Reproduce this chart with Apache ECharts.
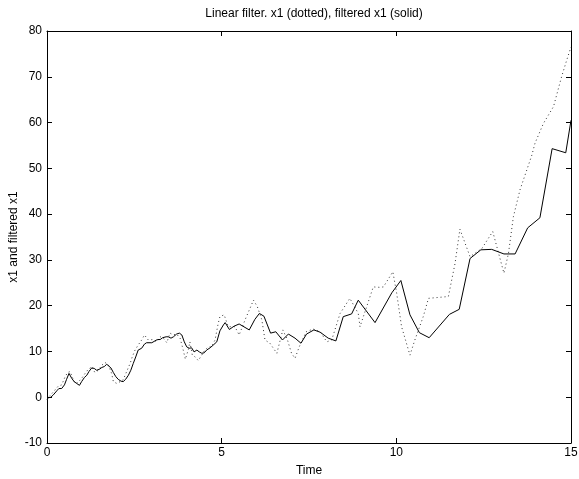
<!DOCTYPE html>
<html>
<head>
<meta charset="utf-8">
<script src="https://cdn.jsdelivr.net/npm/echarts@6/dist/echarts.min.js"></script>
<style>
  html, body { margin: 0; padding: 0; background: #fff; }
  #chart { width: 579px; height: 479px; }
</style>
</head>
<body>
<div id="chart"></div>
<script>
// filtered x1 (solid): time and value
const solidTime = [0.0, 0.11, 0.18, 0.28, 0.34, 0.42, 0.5, 0.56, 0.63, 0.71, 0.78, 0.85, 0.93, 0.99,
  1.07, 1.14, 1.2, 1.28, 1.35, 1.42, 1.5, 1.57, 1.64, 1.71, 1.76, 1.83, 1.9, 1.97, 2.04, 2.12, 2.18,
  2.25, 2.33, 2.4, 2.47, 2.54, 2.61, 2.71, 2.79, 2.85, 3.0, 3.09, 3.16, 3.24, 3.31, 3.41, 3.47, 3.55,
  3.62, 3.71, 3.79, 3.86, 3.93, 4.0, 4.07, 4.14, 4.21, 4.29, 4.36, 4.43, 4.5, 4.57, 4.67, 4.76, 4.86,
  4.95, 5.05, 5.1, 5.22, 5.35, 5.5, 5.79, 5.95, 6.08, 6.21, 6.4, 6.55, 6.74, 6.91, 7.1, 7.27, 7.43,
  7.64, 7.82, 8.05, 8.27, 8.48, 8.72, 8.91, 9.39, 9.87, 10.13, 10.39, 10.66, 10.94, 11.52, 11.8,
  12.11, 12.42, 12.73, 13.08, 13.4, 13.76, 14.11, 14.46, 14.85, 15.0];
const solidValue = [-0.2, 0, 0.5, 1.4, 1.9, 1.9, 2.7, 3.9, 5.2, 4.1, 3.4, 3.0, 2.6, 3.4,
  4.3, 4.8, 5.6, 6.4, 6.3, 5.9, 6.1, 6.5, 6.7, 7.2, 7.4, 6.4, 5.4, 4.5, 3.9, 3.5, 3.4,
  3.9, 4.8, 5.9, 7.4, 8.8, 10.3, 10.7, 11.6, 11.9, 11.9, 12.3, 12.6, 12.6, 13.0, 13.2, 13.2, 12.9,
  13.2, 13.8, 14.0, 13.6, 12.1, 11.0, 10.7, 10.8, 9.9, 10.3, 9.9, 9.6, 9.7, 10.3, 10.8, 11.4, 12.1,
  14.5, 15.8, 16.3, 14.8, 15.5, 16.0, 14.7, 17.0, 18.3, 17.7, 14.0, 14.3, 12.5, 13.8, 12.9, 11.8, 13.8,
  14.7, 14.2, 12.9, 12.3, 17.6, 18.2, 21.2, 16.3, 22.8, 25.5, 18.0, 14.1, 13.0, 18.1, 19.2,
  30.3, 32.2, 32.3, 31.3, 31.3, 37.0, 39.2, 54.3, 53.4, 60.5];

// x1 (dotted): time and value
const dottedTime = [0.0, 0.04, 0.13, 0.23, 0.32, 0.42, 0.52, 0.59, 0.66, 0.72, 0.8, 0.88, 0.99,
  1.09, 1.16, 1.28, 1.37, 1.47, 1.57, 1.66, 1.76, 1.85, 1.9, 2.0, 2.09, 2.18, 2.28, 2.38, 2.44,
  2.52, 2.61, 2.71, 2.79, 2.9, 3.04, 3.14, 3.24, 3.33, 3.43, 3.52, 3.62, 3.71, 3.81, 3.9, 3.96,
  4.05, 4.09, 4.16, 4.24, 4.33, 4.43, 4.52, 4.62, 4.71, 4.81, 4.9, 4.95, 5.07, 5.19, 5.38, 5.5,
  5.67, 5.91, 6.02, 6.15, 6.24, 6.38, 6.58, 6.75, 6.88, 7.0, 7.1, 7.22, 7.42, 7.62, 7.82, 8.01,
  8.15, 8.39, 8.67, 8.91, 8.96, 9.34, 9.53, 9.63, 9.9, 10.01, 10.15, 10.39, 10.53, 10.77, 10.92,
  11.49, 11.68, 11.82, 12.11, 12.45, 12.76, 13.08, 13.21, 13.35, 13.54, 13.88, 13.97, 14.21,
  14.5, 14.73, 14.88, 15.0];
const dottedValue = [-0.5, 0, 0.7, 1.6, 2.4, 2.7, 4.5, 5.4, 5.6, 4.5, 3.0, 3.2, 4.1,
  5.2, 5.9, 6.7, 5.4, 5.9, 7.0, 7.6, 7.0, 5.2, 3.4, 3.0, 3.4, 3.8, 5.6, 7.4, 8.8,
  10.3, 11.4, 12.5, 13.6, 12.5, 12.6, 12.1, 13.2, 12.9, 11.9, 14.0, 13.6, 13.8, 12.9, 10.3, 8.3,
  10.5, 12.1, 9.2, 8.8, 8.0, 9.2, 10.3, 11.0, 11.0, 12.5, 16.1, 17.6, 18.0, 15.4, 15.4, 13.6,
  16.9, 21.2, 19.8, 16.9, 12.5, 11.8, 9.6, 14.7, 12.6, 9.6, 8.5, 11.0, 14.3, 14.9, 14.3, 12.1,
  12.5, 18.3, 21.6, 18.3, 15.4, 24.1, 24.0, 24.1, 27.4, 22.7, 15.4, 9.2, 12.5, 17.6, 21.6,
  22.0, 29.2, 36.7, 30.7, 32.5, 36.2, 27.1, 31.4, 39.4, 45.3, 52.9, 55.5, 59.8,
  63.5, 70.0, 73.7, 76.5];

const xRange = [0, 15];
const yRange = [-10, 80];

const zip = (a, b) => a.map((t, i) => [t, b[i]]);
const font = "'Liberation Sans', Arial, sans-serif";

const chart = echarts.init(document.getElementById('chart'));

const baseX = {
  type: 'value', min: xRange[0], max: xRange[1], interval: 5,
  axisLine: { show: true, onZero: false, lineStyle: { color: '#000', width: 1 } },
  axisTick: { show: true, inside: true, length: 5, lineStyle: { color: '#000' } },
  splitLine: { show: false }
};
const baseY = {
  type: 'value', min: yRange[0], max: yRange[1], interval: 10,
  axisLine: { show: true, onZero: false, lineStyle: { color: '#000', width: 1 } },
  axisTick: { show: true, inside: true, length: 5, lineStyle: { color: '#000' } },
  splitLine: { show: false }
};

chart.setOption({
  animation: false,
  backgroundColor: '#fff',
  title: {
    text: 'Linear filter. x1 (dotted), filtered x1 (solid)',
    left: 309, top: 3, textAlign: 'center',
    textStyle: { fontFamily: font, fontSize: 12, fontWeight: 'normal', color: '#000' }
  },
  grid: { left: 47, right: 8, top: 31, bottom: 36, containLabel: false, outerBoundsMode: 'none' },
  xAxis: [
    Object.assign({}, baseX, {
      position: 'bottom',
      name: 'Time', nameLocation: 'middle', nameGap: 22, nameMoveOverlap: false,
      nameTextStyle: { fontFamily: font, fontSize: 12, color: '#000' },
      axisLabel: { margin: 4, fontFamily: font, fontSize: 12, color: '#000' }
    }),
    Object.assign({}, baseX, { position: 'top', axisLabel: { show: false } })
  ],
  yAxis: [
    Object.assign({}, baseY, {
      position: 'left',
      name: 'x1 and filtered x1', nameLocation: 'middle', nameGap: 27, nameRotate: 90,
      nameMoveOverlap: false,
      nameTextStyle: { fontFamily: font, fontSize: 12, color: '#000' },
      axisLabel: { margin: 5, fontFamily: font, fontSize: 12, color: '#000' }
    }),
    Object.assign({}, baseY, { position: 'right', axisLabel: { show: false } })
  ],
  series: [
    {
      name: 'x1',
      type: 'line',
      data: zip(dottedTime, dottedValue),
      showSymbol: false,
      lineStyle: { color: '#333', width: 1, type: [1, 3] }
    },
    {
      name: 'filtered x1',
      type: 'line',
      data: zip(solidTime, solidValue),
      showSymbol: false,
      lineStyle: { color: '#000', width: 1 }
    }
  ]
});
</script>
</body>
</html>
